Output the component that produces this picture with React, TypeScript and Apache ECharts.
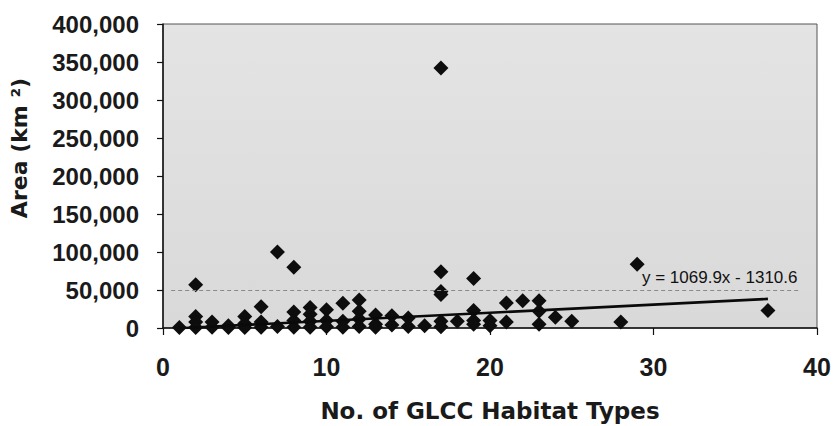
import React, { useEffect, useRef } from "react";
import * as echarts from "echarts";

// Number of GLCC habitat types per area (x) and area in km² (y)
const habitatTypes = [
  1,
  2, 2, 2, 2,
  3, 3,
  4, 4,
  5, 5, 5,
  6, 6, 6,
  7, 7,
  8, 8, 8, 8,
  9, 9, 9, 9,
  10, 10, 10,
  11, 11, 11,
  12, 12, 12, 12,
  13, 13, 13,
  14, 14,
  15, 15,
  16,
  17, 17, 17, 17, 17, 17,
  18,
  19, 19, 19, 19,
  20, 20,
  21, 21,
  22,
  23, 23, 23,
  24,
  25,
  28,
  29,
  37,
];
const areaKm2 = [
  500,
  57000, 15000, 8000, 500,
  8000, 1000,
  500, 3000,
  15000, 6000, 500,
  28000, 8000, 1000,
  100000, 2000,
  80000, 21000, 10000, 1000,
  27000, 18000, 9000, 1000,
  24000, 10000, 1500,
  32500, 9000, 1000,
  37000, 22000, 12000, 2000,
  17000, 5000, 1000,
  16000, 4000,
  13000, 2000,
  3000,
  342000, 74000, 48000, 44000, 9000, 1500,
  9000,
  65000, 23000, 10000, 5000,
  10000, 3000,
  33000, 8000,
  36000,
  36000, 22000, 5000,
  14000,
  9000,
  8000,
  84000,
  23000,
];

// Linear trendline (as printed on the chart)
const trendSlope = 1069.9;
const trendIntercept = -1310.6;
const trendLabel = "y = 1069.9x - 1310.6";

// Dashed reference line
const referenceArea = 50000;
const referenceFrom = 0.5;
const referenceTo = 39;

// Axes
const xMin = 0;
const xMax = 40;
const xInterval = 10;
const yMin = 0;
const yMax = 400000;
const yInterval = 50000;

const xTitle = "No. of GLCC Habitat Types";
const yTitle = "Area (km ²)";

export default function App() {
  const ref = useRef<HTMLDivElement>(null);

  useEffect(() => {
    if (!ref.current) return;
    const chart = echarts.init(ref.current, null, { renderer: "svg" });

    const points = habitatTypes.map((x, i) => [x, areaKm2[i]]);
    const tMin = Math.min(...habitatTypes);
    const tMax = Math.max(...habitatTypes);
    const trend = [
      [tMin, trendSlope * tMin + trendIntercept],
      [tMax, trendSlope * tMax + trendIntercept],
    ];

    chart.setOption({
      animation: false,
      backgroundColor: "#ffffff",
      grid: {
        left: 163,
        right: 17,
        top: 24,
        bottom: 98,
        show: true,
        borderColor: "#555555",
        borderWidth: 1,
        backgroundColor: {
          type: "linear",
          x: 0,
          y: 0,
          x2: 0,
          y2: 1,
          colorStops: [
            { offset: 0, color: "#e4e4e4" },
            { offset: 1, color: "#d9d9d9" },
          ],
        },
      },
      xAxis: {
        type: "value",
        min: xMin,
        max: xMax,
        interval: xInterval,
        splitLine: { show: false },
        axisLine: { show: true, onZero: false, lineStyle: { color: "#111", width: 1.5 } },
        axisTick: { show: true, inside: false, length: 7, lineStyle: { color: "#111", width: 1.2 } },
        axisLabel: {
          margin: 26,
          color: "#1a1a1a",
          fontFamily: "Liberation Sans, Arial, sans-serif",
          fontWeight: "bold",
          fontSize: 25,
        },
      },
      yAxis: {
        type: "value",
        min: yMin,
        max: yMax,
        interval: yInterval,
        splitLine: { show: false },
        axisLine: { show: true, onZero: false, lineStyle: { color: "#111", width: 1.5 } },
        axisTick: { show: true, inside: false, length: 6, lineStyle: { color: "#111", width: 1.2 } },
        axisLabel: {
          margin: 24,
          color: "#1a1a1a",
          fontFamily: "Liberation Sans, Arial, sans-serif",
          fontWeight: "bold",
          fontSize: 24,
          formatter: (v: number) => v.toLocaleString("en-US"),
        },
      },
      series: [
        {
          type: "scatter",
          data: points,
          symbol: "diamond",
          symbolSize: 15,
          itemStyle: { color: "#0d0d0d", opacity: 1 },
          z: 3,
          markLine: {
            silent: true,
            symbol: ["none", "none"],
            label: { show: false },
            lineStyle: { color: "#8a8a8a", type: [4, 3], width: 1.2 },
            data: [
              [
                { coord: [referenceFrom, referenceArea] },
                { coord: [referenceTo, referenceArea] },
              ],
            ],
          },
        },
        {
          type: "line",
          data: trend,
          showSymbol: false,
          symbol: "none",
          lineStyle: { color: "#0a0a0a", width: 2.6 },
          z: 4,
        },
      ],
      graphic: [
        {
          type: "text",
          left: 642,
          top: 269,
          style: {
            text: trendLabel,
            fill: "#111",
            font: "17px 'Liberation Sans', Arial, sans-serif",
          },
          z: 10,
        },
        {
          type: "text",
          x: 490,
          y: 411,
          style: {
            text: xTitle,
            fill: "#1a1a1a",
            font: "bold 23px 'DejaVu Sans', sans-serif",
            align: "center",
            verticalAlign: "middle",
          },
        },
        {
          type: "text",
          x: 19,
          y: 148,
          rotation: Math.PI / 2,
          style: {
            text: yTitle,
            fill: "#1a1a1a",
            font: "bold 22px 'DejaVu Sans', sans-serif",
            align: "center",
            verticalAlign: "middle",
          },
        },
      ],
    });

    return () => chart.dispose();
  }, []);

  return (
    <div
      ref={ref}
      style={{ position: "absolute", left: 0, top: 0, width: 834, height: 426 }}
    />
  );
}
